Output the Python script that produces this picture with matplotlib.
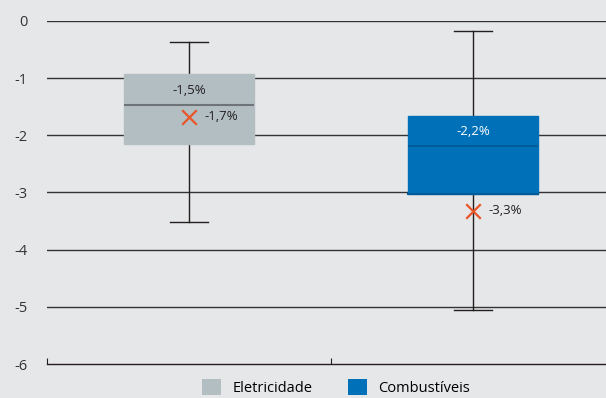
import matplotlib.pyplot as plt
from matplotlib.patches import Patch

# dados
categorias = ["Eletricidade", "Combustíveis"]
q1 = [-2.15, -3.03]
q3 = [-0.93, -1.67]
mediana = [-1.47, -2.19]
media = [-1.68, -3.32]
whislo = [-3.52, -5.06]
whishi = [-0.37, -0.17]
rotulo_mediana = ["-1,5%", "-2,2%"]
rotulo_media = ["-1,7%", "-3,3%"]
yticks = [0, -1, -2, -3, -4, -5, -6]

cores = ["#b3bec3", "#0071b9"]
cor_mediana = ["#6e7478", "#005c98"]
cor_texto = ["#231f20", "white"]
fundo = "#e6e7e8"

plt.rcParams['font.family'] = ['Open Sans', 'DejaVu Sans']

fig = plt.figure(figsize=(6.06, 3.98), dpi=100, facecolor=fundo)
ax = fig.add_axes([0.0776, 0.0854, 0.937, 0.862])
ax.set_facecolor(fundo)

# linhas de grade
for y in yticks[:-1]:
    ax.axhline(y, color="#333333", lw=1, zorder=0)

stats = []
for i in range(2):
    stats.append(dict(med=mediana[i], q1=q1[i], q3=q3[i],
                      whislo=whislo[i], whishi=whishi[i], fliers=[]))

pos = [0.5, 1.5]
bp = ax.bxp(stats, positions=pos, widths=0.46, patch_artist=True,
            showfliers=False, capwidths=0.135, manage_ticks=False)
for i, caixa in enumerate(bp['boxes']):
    caixa.set_facecolor(cores[i])
    caixa.set_edgecolor(cores[i])
    caixa.set_zorder(3)
for i, med in enumerate(bp['medians']):
    med.set_color(cor_mediana[i])
    med.set_linewidth(1.5)
    med.set_zorder(4)
for w in bp['whiskers'] + bp['caps']:
    w.set_color("#231f20")
    w.set_linewidth(1)
    w.set_zorder(2)
# borda inferior escura da caixa azul
ax.plot([pos[1] - 0.23, pos[1] + 0.23], [q1[1], q1[1]], color=cor_mediana[1], lw=1.5, zorder=4)

# médias
ax.scatter(pos, media, marker="x", s=110, color="#e8562a", linewidths=1.6, zorder=5)

for i in range(2):
    ax.text(pos[i], mediana[i] + 0.26, rotulo_mediana[i], ha="center", va="center",
            fontsize=9.5, color=cor_texto[i], zorder=6)
    ax.text(pos[i] + 0.055, media[i], rotulo_media[i], ha="left", va="center",
            fontsize=9.5, color="#231f20", zorder=6)

ax.set_xlim(0, 2)
ax.set_ylim(-6, 0)
ax.set_yticks(yticks)
ax.set_yticklabels([str(v) for v in yticks], fontsize=10.5, color="#333333")
ax.set_xticks([0, 1, 2])
ax.set_xticklabels([])
ax.tick_params(axis="y", length=0, pad=14)
ax.tick_params(axis="x", direction="in", length=4, color="#231f20")
for s in ["left", "top", "right"]:
    ax.spines[s].set_visible(False)
ax.spines["bottom"].set_color("#231f20")
ax.spines["bottom"].set_linewidth(1)

handles = [Patch(facecolor=cores[0], label=categorias[0]),
           Patch(facecolor=cores[1], label=categorias[1])]
fig.legend(handles=handles, loc="center", bbox_to_anchor=(0.555, 0.026), ncol=2,
           frameon=False, fontsize=10.5, handlelength=1.3, handleheight=1.3,
           columnspacing=2.4, handletextpad=0.8)

plt.savefig("out.png", dpi=100, facecolor=fundo)
